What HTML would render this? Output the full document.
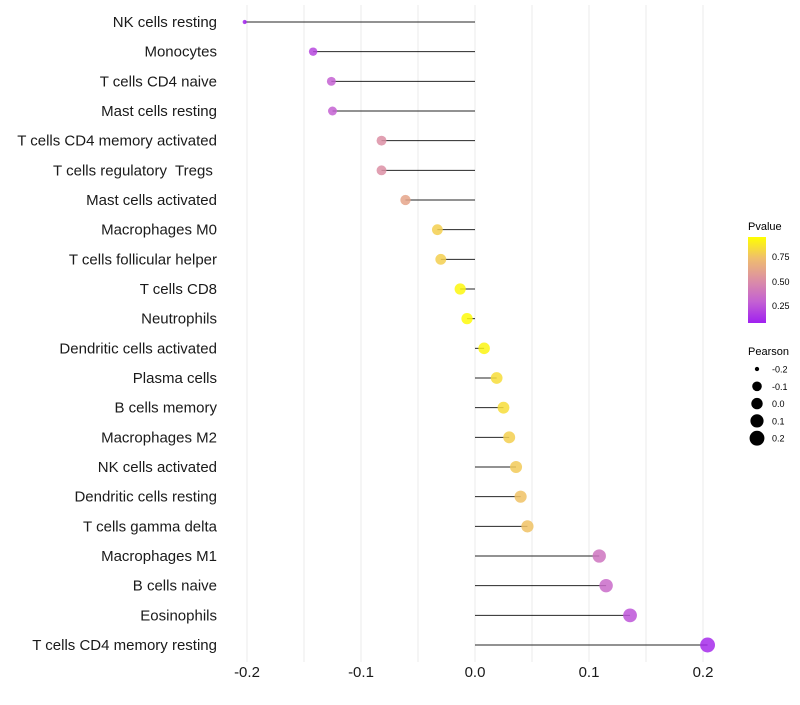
<!DOCTYPE html>
<html><head><meta charset="utf-8"><style>
body{margin:0;background:#fff;font-family:"Liberation Sans",sans-serif}
svg text{font-family:"Liberation Sans",sans-serif;white-space:pre}
</style></head><body>
<svg id="chart" width="800" height="700" xmlns="http://www.w3.org/2000/svg">
<defs>
<linearGradient id="pgrad" x1="0" y1="1" x2="0" y2="0">
<stop offset="0" stop-color="#a020f0"/>
<stop offset="0.25" stop-color="#c462d2"/>
<stop offset="0.5" stop-color="#dc8fa4"/>
<stop offset="0.75" stop-color="#efbd6e"/>
<stop offset="1" stop-color="#ffff00"/>
</linearGradient>
</defs>
<g id="grid"></g>
<g id="marks"></g>
<g id="labels"></g>
<g id="xticks"></g>
<g>
<text x="748" y="230" font-size="11">Pvalue</text>
<rect x="748" y="237" width="18" height="86" fill="url(#pgrad)"/>
<text x="772" y="260" font-size="9">0.75</text>
<text x="772" y="285" font-size="9">0.50</text>
<text x="772" y="309" font-size="9">0.25</text>
</g>
<g id="sizeleg">
<text x="748" y="355" font-size="11">Pearson</text>
</g>
</svg>
<script>
const categories=["NK cells resting","Monocytes","T cells CD4 naive","Mast cells resting","T cells CD4 memory activated","T cells regulatory  Tregs ","Mast cells activated","Macrophages M0","T cells follicular helper","T cells CD8","Neutrophils","Dendritic cells activated","Plasma cells","B cells memory","Macrophages M2","NK cells activated","Dendritic cells resting","T cells gamma delta","Macrophages M1","B cells naive","Eosinophils","T cells CD4 memory resting"];
const pearson=[-0.202,-0.142,-0.126,-0.125,-0.082,-0.082,-0.061,-0.033,-0.030,-0.013,-0.007,0.008,0.019,0.025,0.030,0.036,0.040,0.046,0.109,0.115,0.136,0.204];
const pvalue=[0.02,0.15,0.25,0.25,0.5,0.5,0.62,0.82,0.82,0.97,0.98,0.96,0.87,0.87,0.82,0.8,0.77,0.77,0.35,0.3,0.2,0.04];
const xTicks=[-0.2,-0.1,0.0,0.1,0.2];
const xTickLabels=["-0.2","-0.1","0.0","0.1","0.2"];
const sizeLegendVals=[-0.2,-0.1,0.0,0.1,0.2];

const NS="http://www.w3.org/2000/svg";
const X=v=>475+v*1140;
const Y=i=>22+i*(623/21);
const sv=[-0.21,-0.14,-0.1,0,0.1,0.21],sr=[1.8,4.3,4.8,5.7,6.6,7.5];
function R(v){if(v<=sv[0])return sr[0];for(let i=1;i<sv.length;i++){if(v<=sv[i]){const t=(v-sv[i-1])/(sv[i]-sv[i-1]);return sr[i-1]+(sr[i]-sr[i-1])*t;}}return sr[sr.length-1];}
function mk(t,a,p){const e=document.createElementNS(NS,t);for(const k in a)e.setAttribute(k,a[k]);p.appendChild(e);return e;}
function lerp(a,b,t){return a+(b-a)*t;}
const stops=[[0,[160,32,240]],[0.25,[196,98,210]],[0.5,[220,143,164]],[0.75,[239,189,110]],[1,[255,255,0]]];
function col(p){for(let i=1;i<stops.length;i++){if(p<=stops[i][0]){const t=(p-stops[i-1][0])/(stops[i][0]-stops[i-1][0]);const a=stops[i-1][1],b=stops[i][1];return `rgb(${Math.round(lerp(a[0],b[0],t))},${Math.round(lerp(a[1],b[1],t))},${Math.round(lerp(a[2],b[2],t))})`;}}return "rgb(255,255,0)";}

const grid=document.getElementById('grid');
for(let v=-0.2;v<=0.2001;v+=0.05){
  const l=mk('line',{x1:X(v),x2:X(v),y1:5,y2:662,stroke:'#ebebeb','stroke-width':1},grid);
  
  
}
const marks=document.getElementById('marks'),labels=document.getElementById('labels');
categories.forEach((c,i)=>{
  const y=Y(i);
  const s=mk('line',{x1:X(0),x2:X(pearson[i]),y1:y,y2:y,stroke:'#000','stroke-width':1,'stroke-opacity':0.85},marks);
  
  
  const p=mk('circle',{cx:X(pearson[i]),cy:y,r:R(pearson[i]),fill:col(pvalue[i]),'fill-opacity':0.85},marks);
  
  
  const t=mk('text',{x:217,y:y+5,'text-anchor':'end','font-size':15,fill:'#1a1a1a'},labels);
  t.textContent=c;
  
  
});
const xt=document.getElementById('xticks');
xTicks.forEach((v,i)=>{
  const t=mk('text',{x:X(v),y:677,'text-anchor':'middle','font-size':15,fill:'#1a1a1a'},xt);
  t.textContent=xTickLabels[i];
  
  
});
const sl=document.getElementById('sizeleg');
sizeLegendVals.forEach((v,i)=>{
  const y=369+i*17.3;
  const c=mk('circle',{cx:757,cy:y,r:R(v),fill:'#000'},sl);
  
  
  const t=mk('text',{x:772,y:y+3.5,'font-size':9},sl);
  t.textContent=v.toFixed(1);
  
  
});
</script>
</body></html>
